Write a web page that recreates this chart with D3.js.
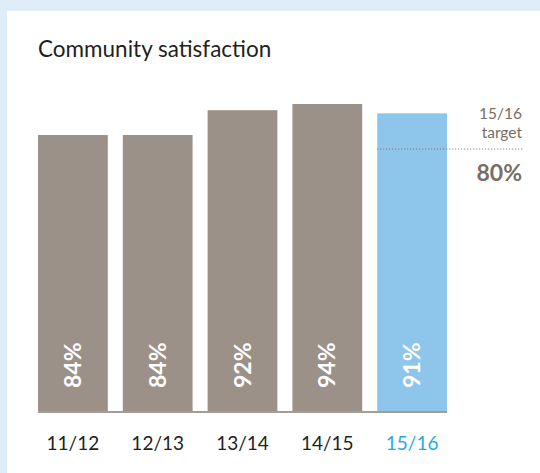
<!DOCTYPE html>
<meta charset="utf-8">
<style>
body { margin: 0; background: #dfedf9; }
svg { display: block; }
text { font-family: "Lato", "Open Sans", sans-serif; }
</style>
<svg width="540" height="473"></svg>
<script src="https://d3js.org/d3.v7.min.js"></script>
<script>
var years = ["11/12", "12/13", "13/14", "14/15", "15/16"];
var values = [84, 84, 92, 94, 91];
var target = 80;
var targetLabel = ["15/16", "target"];

var svg = d3.select("svg");

// white panel
svg.append("rect")
    .attr("x", 7).attr("y", 11)
    .attr("width", 533).attr("height", 462)
    .attr("fill", "#fff");

svg.append("text")
    .attr("x", 38).attr("y", 57)
    .attr("font-size", 22.5)
    .attr("fill", "#231f20")
    .text("Community satisfaction");

var x = d3.scaleBand().domain(years).range([38, 447]).paddingInner(0.177).paddingOuter(0);
var y = d3.scaleLinear().domain([-5, 94]).range([411, 104]);

var last = years[years.length - 1];
var colour = function(d) { return d === last ? "#8ec5eb" : "#9c9188"; };

var g = svg.append("g");

g.selectAll(".bar")
    .data(values)
  .enter().append("rect")
    .attr("class", "bar")
    .attr("x", function(d, i) { return x(years[i]); })
    .attr("y", function(d) { return y(d); })
    .attr("width", x.bandwidth())
    .attr("height", function(d) { return y.range()[0] - y(d); })
    .attr("fill", function(d, i) { return colour(years[i]); });

// baseline
g.append("line")
    .attr("x1", 38).attr("x2", 447)
    .attr("y1", 412).attr("y2", 412)
    .attr("stroke", "#a59c94").attr("stroke-width", 2);

// value labels inside bars, rotated
g.selectAll(".val")
    .data(values)
  .enter().append("text")
    .attr("class", "val")
    .attr("transform", function(d, i) {
      return "translate(" + (x(years[i]) + x.bandwidth() / 2 + 8) + ",388) rotate(-90)";
    })
    .attr("font-size", 23)
    .attr("font-weight", "bold")
    .attr("fill", "#fff")
    .text(function(d) { return d + "%"; });

// x labels
var xAxis = d3.axisBottom(x).tickSize(0).tickPadding(0);
var ax = svg.append("g")
    .attr("transform", "translate(0,436)")
    .call(xAxis);
ax.select(".domain").remove();
ax.selectAll("text")
    .attr("font-size", 19)
    .attr("font-family", "Lato, 'Open Sans', sans-serif")
    .attr("fill", function(d) { return d === last ? "#29a9e0" : "#231f20"; });

// target
var ty = 149;
svg.append("line")
    .attr("x1", x(last)).attr("x2", 523)
    .attr("y1", ty).attr("y2", ty)
    .attr("stroke", "#7a6e63").attr("stroke-width", 1)
    .attr("stroke-dasharray", "1,2");

svg.selectAll(".tl")
    .data(targetLabel)
  .enter().append("text")
    .attr("class", "tl")
    .attr("x", 522)
    .attr("y", function(d, i) { return 119 + i * 18.5; })
    .attr("text-anchor", "end")
    .attr("font-size", 15.5)
    .attr("fill", "#7a6e63")
    .text(function(d) { return d; });

svg.append("text")
    .attr("x", 522).attr("y", 181)
    .attr("text-anchor", "end")
    .attr("font-size", 23)
    .attr("font-weight", "bold")
    .attr("fill", "#7a6e63")
    .text(target + "%");
</script>
